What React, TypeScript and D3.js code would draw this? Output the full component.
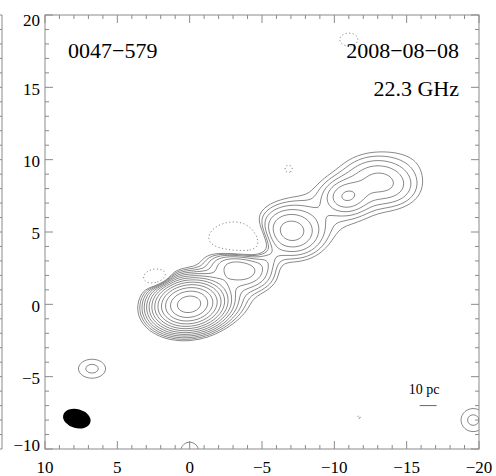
import React, { useEffect, useRef } from 'react';
import * as d3 from 'd3';

// Brightness model: gaussian components (mas, relative to lowest contour)
const compX = [0.05, -2.6, -3.4, -5.3, -7.0, -10.85, -13.3, -11.0, 6.75, -19.6, 0.0];
const compY = [0.0, 0.5, 2.5, 3.05, 5.05, 7.45, 8.45, 7.4, -4.45, -8.0, -10.15];
const compAmp = [80, 1.8, 7.5, 1.2, 6, 4.2, 3.3, 1.6, 1.55, 1.55, 1.35];
const compMaj = [1.2, 1.3, 1.3, 0.7, 1.25, 0.9, 1.45, 4.5, 1.0, 0.9, 0.8];
const compMin = [0.84, 1.1, 0.78, 0.5, 1.0, 0.7, 0.95, 1.6, 0.7, 0.85, 0.8];
const compPA = [-8, 0, 15, 150, 10, 0, 15, 152, 0, 0, 0];

// negative (dotted) features
const negX = [-3.3, 2.2, -6.85, -11.0, -11.7];
const negY = [4.3, 1.8, 9.35, 18.3, -7.8];
const negAmp = [4.6, 3.6, 1.35, 1.5, 1.1];
const negMaj = [1.25, 0.65, 0.4, 0.7, 0.25];
const negMin = [0.85, 0.42, 0.4, 0.5, 0.25];

const contourLevels = [1, 1.41, 2, 2.83, 4, 5.66, 8, 11.3, 16, 22.6, 32, 45.3, 64];
const negLevels = [1];

const xTicks = [10, 5, 0, -5, -10, -15, -20];
const yTicks = [-10, -5, 0, 5, 10, 15, 20];
const minorTicks = d3.range(-20, 21, 1);

// restoring beam and linear scale bar
const beam = { x: 7.8, y: -7.9, maj: 0.97, min: 0.66, angle: 15 };
const scaleBar = { x1: -15.9, x2: -17.07, y: -7.0, textX: -16.2, label: '10 pc' };

const sourceName = '0047−579';
const obsDate = '2008−08−08';
const obsFreq = '22.3 GHz';

const serif = '"Liberation Serif", "Times New Roman", serif';

const App = () => {
  const svgRef = useRef<SVGSVGElement>(null);

  useEffect(() => {
    const svg = d3.select(svgRef.current);
    svg.selectAll('*').remove();

    const left = 45, right = 479, top = 15, bottom = 449;
    const x = d3.scaleLinear().domain([10, -20]).range([left, right]);
    const y = d3.scaleLinear().domain([-10, 20]).range([bottom, top]);

    const gauss = (dx: number, dy: number, a: number, sa: number, sb: number, pa: number) => {
      const t = (pa * Math.PI) / 180;
      const u = dx * Math.cos(t) + dy * Math.sin(t);
      const v = -dx * Math.sin(t) + dy * Math.cos(t);
      return a * Math.exp(-(u * u) / (2 * sa * sa) - (v * v) / (2 * sb * sb));
    };

    // sample the model on a grid a little larger than the frame
    const cell = 2;
    const gx0 = left - 10, gy0 = top - 10;
    const nx = Math.ceil((right - left + 20) / cell);
    const ny = Math.ceil((bottom - top + 20) / cell);
    const field: number[] = new Array(nx * ny);
    for (let j = 0; j < ny; j++) {
      for (let i = 0; i < nx; i++) {
        const dx = x.invert(gx0 + (i + 0.5) * cell);
        const dy = y.invert(gy0 + (j + 0.5) * cell);
        let v = 0;
        for (let k = 0; k < compX.length; k++) {
          v += gauss(dx - compX[k], dy - compY[k], compAmp[k], compMaj[k], compMin[k], compPA[k]);
        }
        for (let k = 0; k < negX.length; k++) {
          v -= gauss(dx - negX[k], dy - negY[k], negAmp[k], negMaj[k], negMin[k], 0);
        }
        field[i + j * nx] = v;
      }
    }

    const pos = d3.contours().size([nx, ny]).thresholds(contourLevels)(field);
    const neg = d3.contours().size([nx, ny]).thresholds(negLevels)(field.map((v) => -v));
    const path = d3.geoPath(d3.geoIdentity().scale(cell).translate([gx0, gy0]) as any);

    svg.append('defs').append('clipPath').attr('id', 'frame')
      .append('rect')
      .attr('x', left).attr('y', top)
      .attr('width', right - left).attr('height', bottom - top);

    const plot = svg.append('g').attr('clip-path', 'url(#frame)');

    plot.selectAll('path.pos')
      .data(pos)
      .enter()
      .append('path')
      .attr('class', 'pos')
      .attr('d', (d) => path(d as any))
      .attr('fill', 'none')
      .attr('stroke', '#8a8a8a')
      .attr('stroke-width', 1);

    plot.selectAll('path.neg')
      .data(neg)
      .enter()
      .append('path')
      .attr('class', 'neg')
      .attr('d', (d) => path(d as any))
      .attr('fill', 'none')
      .attr('stroke', '#8a8a8a')
      .attr('stroke-width', 1)
      .attr('stroke-dasharray', '1.2,2.4');

    // beam
    const bx = x(beam.x), by = y(beam.y);
    plot.append('ellipse')
      .attr('cx', bx).attr('cy', by)
      .attr('rx', Math.abs(x(beam.maj) - x(0)))
      .attr('ry', Math.abs(y(beam.min) - y(0)))
      .attr('transform', `rotate(${beam.angle}, ${bx}, ${by})`)
      .attr('fill', '#000');

    // scale bar
    svg.append('line')
      .attr('x1', x(scaleBar.x1)).attr('x2', x(scaleBar.x2))
      .attr('y1', y(scaleBar.y)).attr('y2', y(scaleBar.y))
      .attr('stroke', '#666').attr('stroke-width', 1);
    svg.append('text')
      .attr('x', x(scaleBar.textX))
      .attr('y', y(scaleBar.y) - 12)
      .attr('text-anchor', 'middle')
      .attr('font-family', serif)
      .attr('font-size', 14)
      .text(scaleBar.label);

    // frame and ticks (inward, minor every 1)
    const frameColor = '#8a8a8a';
    svg.append('rect')
      .attr('x', left).attr('y', top)
      .attr('width', right - left).attr('height', bottom - top)
      .attr('fill', 'none').attr('stroke', frameColor).attr('stroke-width', 1);

    const ticks = svg.append('g').attr('stroke', frameColor).attr('stroke-width', 1);
    minorTicks.forEach((t) => {
      const len = t % 5 === 0 ? 8 : 4;
      if (t >= -20 && t <= 10) {
        ticks.append('line').attr('x1', x(t)).attr('x2', x(t)).attr('y1', bottom).attr('y2', bottom - len);
        ticks.append('line').attr('x1', x(t)).attr('x2', x(t)).attr('y1', top).attr('y2', top + len);
      }
      if (t >= -10 && t <= 20) {
        ticks.append('line').attr('x1', left).attr('x2', left + len).attr('y1', y(t)).attr('y2', y(t));
        ticks.append('line').attr('x1', right).attr('x2', right - len).attr('y1', y(t)).attr('y2', y(t));
        // right edge of the neighbouring panel
        ticks.append('line').attr('x1', 2).attr('x2', 2 - len).attr('y1', y(t)).attr('y2', y(t));
      }
    });
    ticks.append('line').attr('x1', 2).attr('x2', 2).attr('y1', top).attr('y2', bottom);

    const fmt = d3.format('d');
    svg.append('g')
      .selectAll('text')
      .data(xTicks)
      .enter()
      .append('text')
      .attr('x', (d) => x(d))
      .attr('y', 473)
      .attr('text-anchor', 'middle')
      .attr('font-family', serif)
      .attr('font-size', 17)
      .text((d) => fmt(d).replace('-', '−'));

    // end labels are kept inside the frame's height
    svg.append('g')
      .selectAll('text')
      .data(yTicks)
      .enter()
      .append('text')
      .attr('x', left - 5)
      .attr('y', (d) => Math.min(Math.max(y(d) + 1.5, top + 5.5), bottom - 4) + 5.8)
      .attr('text-anchor', 'end')
      .attr('font-family', serif)
      .attr('font-size', 17)
      .text((d) => fmt(d).replace('-', '−'));

    // annotations
    svg.append('text').attr('x', 68).attr('y', 58)
      .attr('font-family', serif).attr('font-size', 22).text(sourceName);
    svg.append('text').attr('x', 459).attr('y', 58).attr('text-anchor', 'end')
      .attr('font-family', serif).attr('font-size', 22).text(obsDate);
    svg.append('text').attr('x', 459).attr('y', 96).attr('text-anchor', 'end')
      .attr('font-family', serif).attr('font-size', 22).text(obsFreq);
  }, []);

  return (
    <svg
      ref={svgRef}
      width={496}
      height={476}
      style={{ position: 'absolute', left: 0, top: 0, background: '#fff' }}
    />
  );
};

export default App;
